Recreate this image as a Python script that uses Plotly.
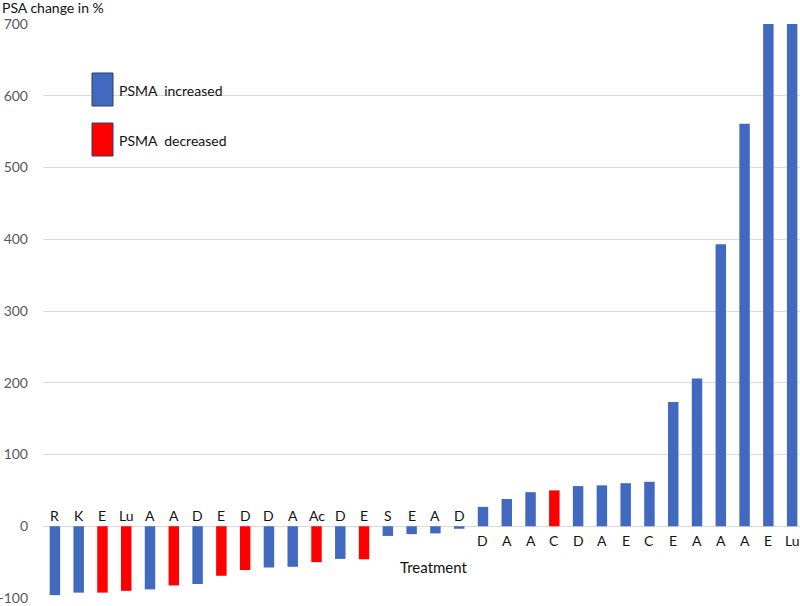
import plotly.graph_objects as go

# ---- data ----
treatments = ["R", "K", "E", "Lu", "A", "A", "D", "E", "D", "D", "A", "Ac", "D", "E",
              "S", "E", "A", "D", "D", "A", "A", "C", "D", "A", "E", "C", "E", "A",
              "A", "A", "E", "Lu"]
psa_change = [-96, -92.5, -92.5, -90, -88, -82.5, -80.5, -69, -61, -57.5, -56.5, -50,
              -45.5, -46, -13.5, -11, -10, -3.5, 27, 38, 47.5, 50, 56, 57, 60, 62,
              173, 206, 393, 561, 1000, 1000]  # last two exceed the axis (clipped at 700)
psma_status = ["inc", "inc", "dec", "dec", "inc", "dec", "inc", "dec", "dec", "inc",
               "inc", "dec", "inc", "dec", "inc", "inc", "inc", "inc", "inc", "inc",
               "inc", "dec", "inc", "inc", "inc", "inc", "inc", "inc", "inc", "inc",
               "inc", "inc"]
y_ticks = [-100, 0, 100, 200, 300, 400, 500, 600, 700]
y_tick_labels = ["-100", "0", "100", "200", "300", "400", "500", "600", "700"]
legend_labels = ["PSMA  increased", "PSMA  decreased"]

BLUE = "#4169C0"
RED = "#FF0000"
FONT = "Lato, 'Open Sans', sans-serif"

idx = list(range(len(treatments)))
colors = [BLUE if s == "inc" else RED for s in psma_status]

fig = go.Figure()
fig.add_trace(go.Bar(
    x=idx, y=psa_change, width=0.44,
    marker=dict(color=colors, line=dict(width=0)),
    showlegend=False, hoverinfo="skip", cliponaxis=True,
))

# category labels on the opposite side of the zero line from each bar
for i, (t, v) in enumerate(zip(treatments, psa_change)):
    fig.add_annotation(
        x=i, y=0, text=t, showarrow=False,
        yshift=11 if v < 0 else -14,
        font=dict(family=FONT, size=14, color="#111111"),
    )

# axis title "Treatment"
fig.add_annotation(x=15.95, y=0, text="Treatment", showarrow=False, yshift=-41,
                   font=dict(family=FONT, size=15, color="#111111"))

# y-axis title at top-left
fig.add_annotation(xref="paper", yref="paper", x=0, y=1, xshift=-43, yshift=6,
                   xanchor="left", yanchor="bottom", text="PSA change in %",
                   showarrow=False, font=dict(family=FONT, size=14, color="#111111"))

# custom legend
L, T = 43, 24
W, H = 757, 574
def px(xp):
    return (xp - L) / W
def py(yp):
    return 1 - (yp - T) / H

for (y0, y1, col, lab) in [(73, 106, BLUE, legend_labels[0]), (123, 156, RED, legend_labels[1])]:
    fig.add_shape(type="rect", xref="paper", yref="paper",
                  x0=px(92), x1=px(113), y0=py(y1), y1=py(y0),
                  fillcolor=col, line=dict(color="#2F3E6B", width=1))
    fig.add_annotation(xref="paper", yref="paper", x=px(117), y=py((y0 + y1) / 2 + 1),
                       xanchor="left", yanchor="middle", text=lab, showarrow=False,
                       font=dict(family=FONT, size=14, color="#111111"))

fig.update_layout(
    width=800, height=606,
    margin=dict(l=43, r=0, t=24, b=8, autoexpand=False),
    paper_bgcolor="white", plot_bgcolor="white",
    bargap=0.56,
    xaxis=dict(range=[-0.5, 31.33], showticklabels=False, showgrid=False,
               zeroline=False, showline=False, fixedrange=True, automargin=False),
    yaxis=dict(range=[-100, 700], tickvals=y_ticks, ticktext=y_tick_labels,
               showgrid=True, gridcolor="#D9D9D9", gridwidth=1, zeroline=True,
               zerolinecolor="#D9D9D9", zerolinewidth=1, showline=False,
               ticks="", ticklabelstandoff=14, automargin=False, fixedrange=True,
               tickfont=dict(family=FONT, size=14, color="#595959")),
)

fig.write_html("out.html", config={"displayModeBar": False},
               post_script="document.body.style.margin='0';document.body.style.overflow='hidden';")
